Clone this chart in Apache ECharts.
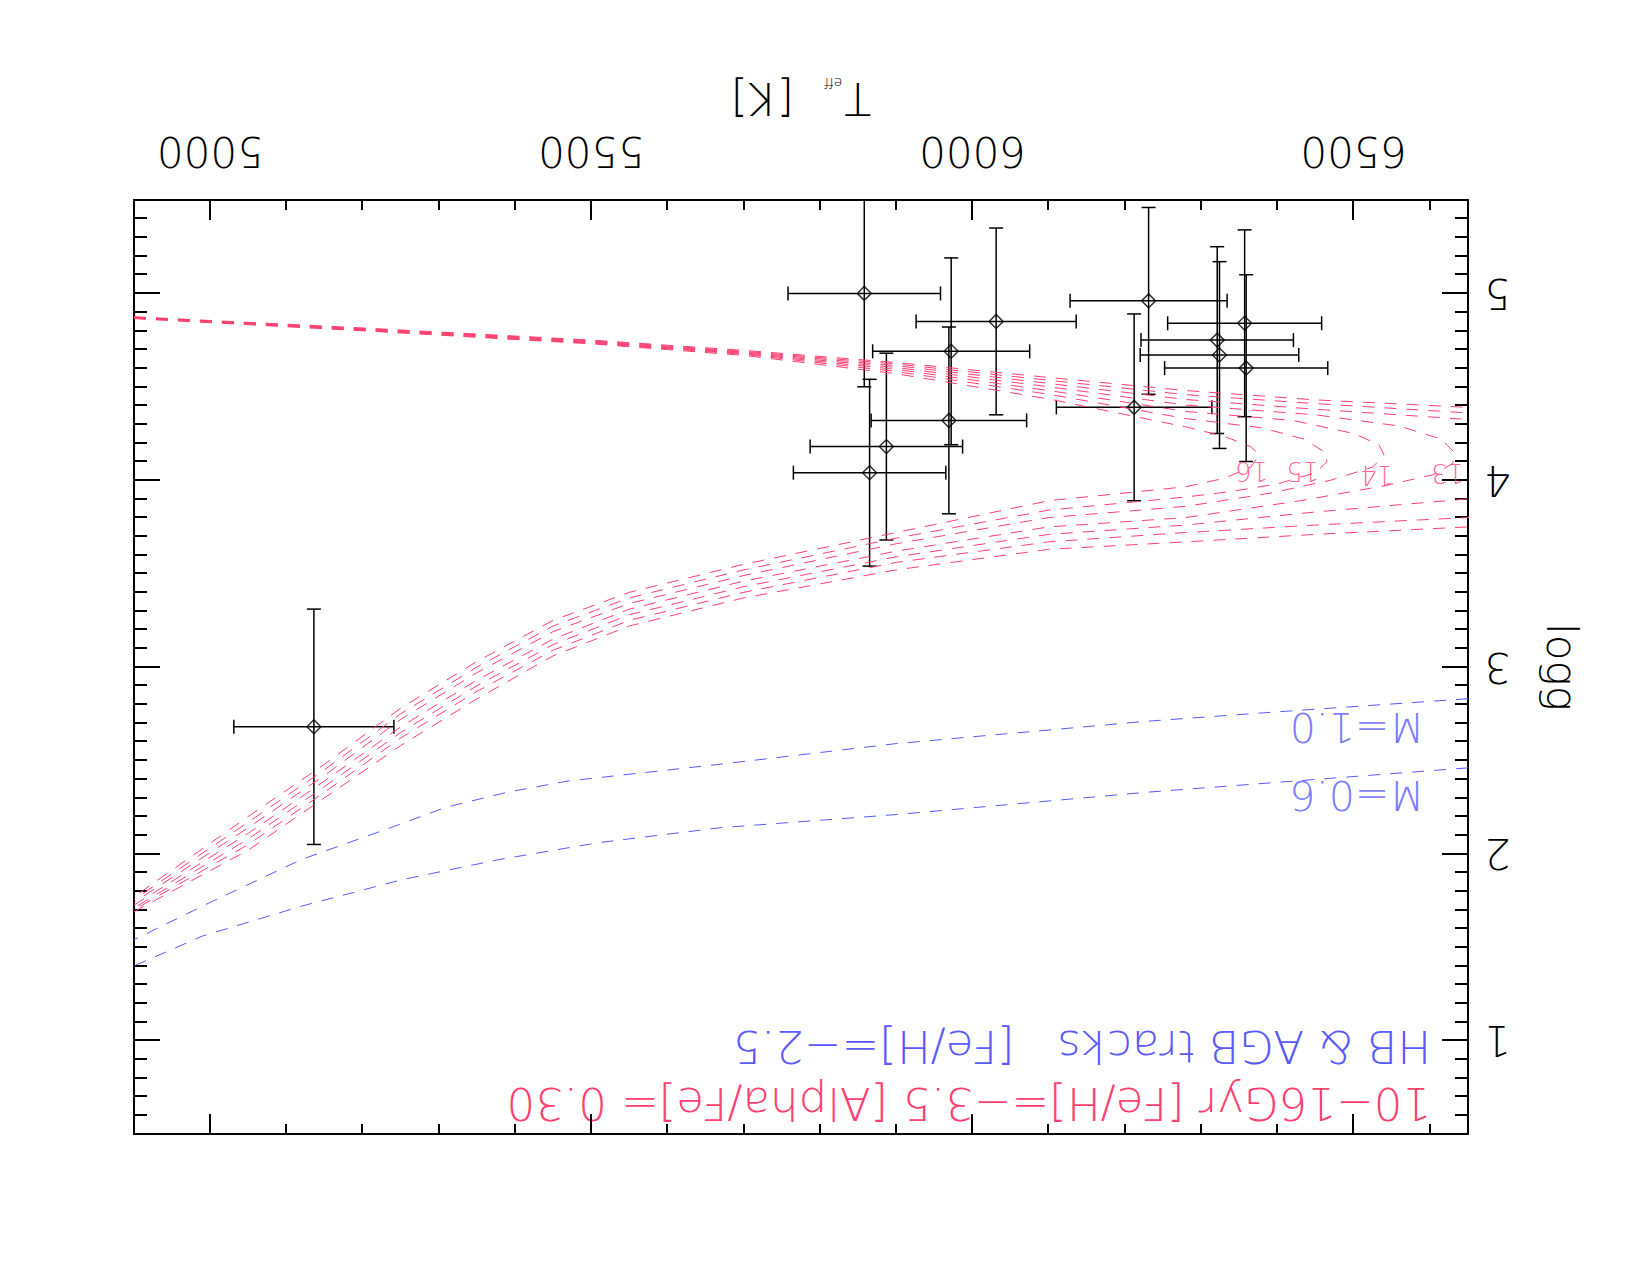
<!DOCTYPE html>
<html>
<head>
<meta charset="utf-8">
<title>Teff - logg</title>
<script src="https://cdn.jsdelivr.net/npm/echarts@6/dist/echarts.min.js"></script>
<style>
html, body { margin: 0; padding: 0; background: #fff; overflow: hidden; }
#chart { width: 1650px; height: 1275px; transform: rotate(180deg); }
</style>
</head>
<body>
<div id="chart"></div>
<script>
// the original figure is stored upside down, so the chart is drawn upright and the div is turned
var tickMajorT = [5000, 5500, 6000, 6500];
var tickMajorG = [1, 2, 3, 4, 5];

// stars: Teff, logg and their errors
var starTeff = [5858, 5865, 5887, 5972, 5969, 6031, 6231, 6212, 6321, 6324, 6357, 6359, 5136];
var starLogg = [5.00, 4.04, 4.18, 4.69, 4.32, 4.85, 4.96, 4.39, 4.75, 4.67, 4.84, 4.60, 2.68];
var starErrT = [100, 100, 100, 103, 102, 105, 103, 102, 100, 104, 101, 107, 105];
var starErrG = [0.5, 0.5, 0.5, 0.5, 0.5, 0.5, 0.5, 0.5, 0.5, 0.5, 0.5, 0.5, 0.63];

// isochrones 10..16 Gyr, [Fe/H]=-3.5
var iso10 = [[4900,4.875],[5200,4.815],[5500,4.750],[5700,4.695],[5900,4.630],[6100,4.550],[6280,4.480],[6450,4.430],[6650,4.390],[6850,4.320],[6900,4.100],[6850,3.860],[6650,3.750],[6450,3.710],[6280,3.670],[6100,3.630],[5900,3.520],[5700,3.370],[5550,3.220],[5450,3.060],[5350,2.830],[5250,2.580],[5150,2.300],[5050,2.020],[4900,1.690]];
var iso11 = [[4900,4.873],[5200,4.812],[5500,4.747],[5700,4.690],[5900,4.622],[6100,4.535],[6280,4.458],[6450,4.410],[6650,4.360],[6780,4.300],[6820,4.120],[6780,3.920],[6650,3.800],[6450,3.760],[6280,3.720],[6100,3.670],[5900,3.560],[5700,3.400],[5550,3.250],[5450,3.090],[5350,2.870],[5250,2.620],[5150,2.330],[5050,2.050],[4900,1.700]];
var iso12 = [[4900,4.872],[5200,4.810],[5500,4.743],[5700,4.686],[5900,4.613],[6100,4.518],[6280,4.432],[6450,4.380],[6650,4.325],[6720,4.280],[6745,4.150],[6730,4.000],[6650,3.900],[6450,3.830],[6280,3.760],[6100,3.710],[5900,3.590],[5700,3.430],[5550,3.280],[5450,3.120],[5350,2.900],[5250,2.650],[5150,2.360],[5050,2.080],[4900,1.710]];
var iso13 = [[4900,4.870],[5200,4.807],[5500,4.740],[5700,4.682],[5900,4.603],[6100,4.500],[6280,4.402],[6450,4.350],[6560,4.290],[6615,4.220],[6632,4.150],[6630,4.090],[6605,4.030],[6540,3.970],[6430,3.890],[6280,3.800],[6100,3.750],[5900,3.620],[5700,3.460],[5550,3.310],[5450,3.150],[5350,2.930],[5250,2.680],[5150,2.390],[5050,2.110],[4900,1.725]];
var iso14 = [[4900,4.868],[5200,4.805],[5500,4.737],[5700,4.678],[5900,4.593],[6100,4.480],[6280,4.368],[6420,4.320],[6500,4.250],[6533,4.190],[6540,4.135],[6525,4.070],[6470,4.000],[6390,3.930],[6280,3.860],[6100,3.800],[5900,3.660],[5700,3.490],[5550,3.340],[5450,3.190],[5350,2.970],[5250,2.720],[5150,2.420],[5050,2.140],[4900,1.740]];
var iso15 = [[4900,4.867],[5200,4.802],[5500,4.733],[5700,4.674],[5900,4.582],[6100,4.460],[6280,4.330],[6380,4.280],[6435,4.220],[6462,4.150],[6465,4.100],[6450,4.040],[6400,3.980],[6340,3.940],[6280,3.910],[6100,3.840],[5900,3.690],[5700,3.520],[5550,3.370],[5450,3.220],[5350,3.000],[5250,2.750],[5150,2.450],[5050,2.170],[4900,1.755]];
var iso16 = [[4900,4.865],[5200,4.800],[5500,4.730],[5700,4.668],[5900,4.570],[6100,4.435],[6280,4.285],[6330,4.235],[6365,4.180],[6376,4.135],[6365,4.070],[6330,4.010],[6280,3.965],[6100,3.890],[5900,3.720],[5700,3.550],[5550,3.400],[5450,3.250],[5350,3.030],[5250,2.780],[5150,2.480],[5050,2.200],[4900,1.770]];

// age labels at the turnoffs
var isoLabelAge = ['13', '14', '15', '16'];
var isoLabelTeff = [6645, 6552, 6455, 6388];
var isoLabelLogg = [4.11, 4.10, 4.12, 4.12];

// HB & AGB tracks, [Fe/H]=-2.5
var hb10 = [[6650,2.83],[6400,2.76],[6230,2.71],[5900,2.59],[5670,2.48],[5470,2.39],[5390,2.33],[5310,2.25],[5230,2.13],[5120,1.97],[5000,1.74],[4900,1.54]];
var hb06 = [[6650,2.46],[6230,2.33],[5900,2.21],[5670,2.14],[5510,2.06],[5380,1.97],[5250,1.86],[5120,1.72],[4990,1.56],[4900,1.40]];
var hbLabelText = ['M=0.6', 'M=1.0'];
var hbLabelTeff = [6593, 6593];
var hbLabelLogg = [2.425, 2.786];

var RED = '#ff4070';
var BLUE = '#5a5aff';
var FONT = '"DejaVu Sans", sans-serif';

function axisX(pos, major) {
  var a = {
    type: 'value', position: pos, min: 4900, max: 6650, inverse: true,
    axisLine: {show: !major, onZero: false, lineStyle: {color: '#000', width: 2}},
    axisTick: {show: true, inside: true, length: major ? 20 : 10, lineStyle: {color: '#000', width: 2}},
    axisLabel: {show: false},
    splitLine: {show: false}
  };
  if (major) a.axisTick.customValues = tickMajorT;
  else a.interval = 100;
  return a;
}
function axisY(pos, major) {
  var a = {
    type: 'value', position: pos, min: 0.5, max: 5.5, inverse: true,
    axisLine: {show: !major, onZero: false, lineStyle: {color: '#000', width: 2}},
    axisTick: {show: true, inside: true, length: major ? 26 : 13, lineStyle: {color: '#000', width: 2}},
    axisLabel: {show: false},
    splitLine: {show: false}
  };
  if (major) a.axisTick.customValues = tickMajorG;
  else a.interval = 0.1;
  return a;
}

var xBottom = axisX('bottom', false);
xBottom.axisLabel = {
  show: true, customValues: tickMajorT, margin: 28, color: '#000',
  fontSize: 42, fontFamily: FONT, fontWeight: 200,
  formatter: function(v) { return v % 500 === 0 ? String(v) : ''; }
};
xBottom.name = '{t|T}{s|eff}{t|  [K]}';
xBottom.nameLocation = 'middle';
xBottom.nameGap = 80;
xBottom.nameTextStyle = {
  color: '#000', fontFamily: FONT, fontWeight: 200,
  rich: {
    t: {fontSize: 44, fontFamily: FONT, fontWeight: 200, color: '#000'},
    s: {fontSize: 14, fontFamily: FONT, color: '#000', verticalAlign: 'bottom', padding: [0, 2, 0, 2]}
  }
};

var yLeft = axisY('left', false);
yLeft.axisLabel = {
  show: true, customValues: tickMajorG, margin: 16, color: '#000',
  fontSize: 42, fontFamily: FONT, fontWeight: 200,
  formatter: function(v) { return Math.abs(v - Math.round(v)) < 1e-6 && v >= 1 ? String(Math.round(v)) : ''; }
};
yLeft.name = 'logg';
yLeft.nameLocation = 'middle';
yLeft.nameGap = 72;
yLeft.nameRotate = 90;
yLeft.nameTextStyle = {color: '#000', fontSize: 42, fontFamily: FONT, fontWeight: 200};

var series = [];
var isoList = [iso10, iso11, iso12, iso13, iso14, iso15, iso16];
isoList.forEach(function(d) {
  series.push({
    type: 'line', data: d, symbol: 'none', clip: true, silent: true,
    lineStyle: {color: RED, width: 1, type: [12, 10]}
  });
});
[hb06, hb10].forEach(function(d) {
  series.push({
    type: 'line', data: d, symbol: 'none', clip: true, silent: true,
    lineStyle: {color: BLUE, width: 1, type: [12, 10]}
  });
});

var errData = starTeff.map(function(t, i) {
  return [t, starLogg[i], starErrT[i], starErrG[i]];
});
series.push({
  type: 'custom', data: errData, encode: {x: 0, y: 1}, clip: true, silent: true,
  renderItem: function(params, api) {
    var t = api.value(0), g = api.value(1), et = api.value(2), eg = api.value(3);
    var l = api.coord([t - et, g]), r = api.coord([t + et, g]);
    var u = api.coord([t, g - eg]), d = api.coord([t, g + eg]);
    var cap = 7;
    var st = {stroke: '#000', lineWidth: 1.5, fill: null};
    return {type: 'group', children: [
      {type: 'line', shape: {x1: l[0], y1: l[1], x2: r[0], y2: r[1]}, style: st},
      {type: 'line', shape: {x1: l[0], y1: l[1] - cap, x2: l[0], y2: l[1] + cap}, style: st},
      {type: 'line', shape: {x1: r[0], y1: r[1] - cap, x2: r[0], y2: r[1] + cap}, style: st},
      {type: 'line', shape: {x1: u[0], y1: u[1], x2: d[0], y2: d[1]}, style: st},
      {type: 'line', shape: {x1: u[0] - cap, y1: u[1], x2: u[0] + cap, y2: u[1]}, style: st},
      {type: 'line', shape: {x1: d[0] - cap, y1: d[1], x2: d[0] + cap, y2: d[1]}, style: st}
    ]};
  }
});
series.push({
  type: 'scatter', silent: true,
  data: starTeff.map(function(t, i) { return [t, starLogg[i]]; }),
  symbol: 'diamond', symbolSize: 14,
  itemStyle: {color: 'rgba(0,0,0,0)', borderColor: '#000', borderWidth: 1.5}
});
series.push({
  type: 'scatter', silent: true, symbolSize: 0,
  data: isoLabelAge.map(function(a, i) { return [isoLabelTeff[i], isoLabelLogg[i], a]; }),
  label: {
    show: true, position: [0, 0], align: 'left', verticalAlign: 'bottom',
    color: RED, fontSize: 26, fontFamily: FONT, fontWeight: 200,
    formatter: function(p) { return p.value[2]; }
  }
});
series.push({
  type: 'scatter', silent: true, symbolSize: 0,
  data: hbLabelText.map(function(s, i) { return [hbLabelTeff[i], hbLabelLogg[i], s]; }),
  label: {
    show: true, position: [0, 0], align: 'left', verticalAlign: 'bottom',
    color: BLUE, fontSize: 41, fontFamily: FONT, fontWeight: 200,
    formatter: function(p) { return p.value[2]; }
  }
});

var chart = echarts.init(document.getElementById('chart'), null, {renderer: 'svg'});
chart.setOption({
  animation: false,
  backgroundColor: '#fff',
  grid: {left: 182, right: 134, top: 141, bottom: 200, containLabel: false},
  xAxis: [xBottom, axisX('bottom', true), axisX('top', false), axisX('top', true)],
  yAxis: [yLeft, axisY('left', true), axisY('right', false), axisY('right', true)],
  graphic: [
    {type: 'text', left: 219, top: 149, silent: true,
     style: {text: '10\u221216Gyr [Fe/H]=\u22123.5 [Alpha/Fe]= 0.30', fill: RED, fontSize: 45, fontFamily: FONT, fontWeight: 200}},
    {type: 'text', left: 219, top: 206, silent: true,
     style: {text: 'HB & AGB tracks   [Fe/H]=\u22122.5', fill: BLUE, fontSize: 45, fontFamily: FONT, fontWeight: 200}}
  ],
  series: series
});
</script>
</body>
</html>
